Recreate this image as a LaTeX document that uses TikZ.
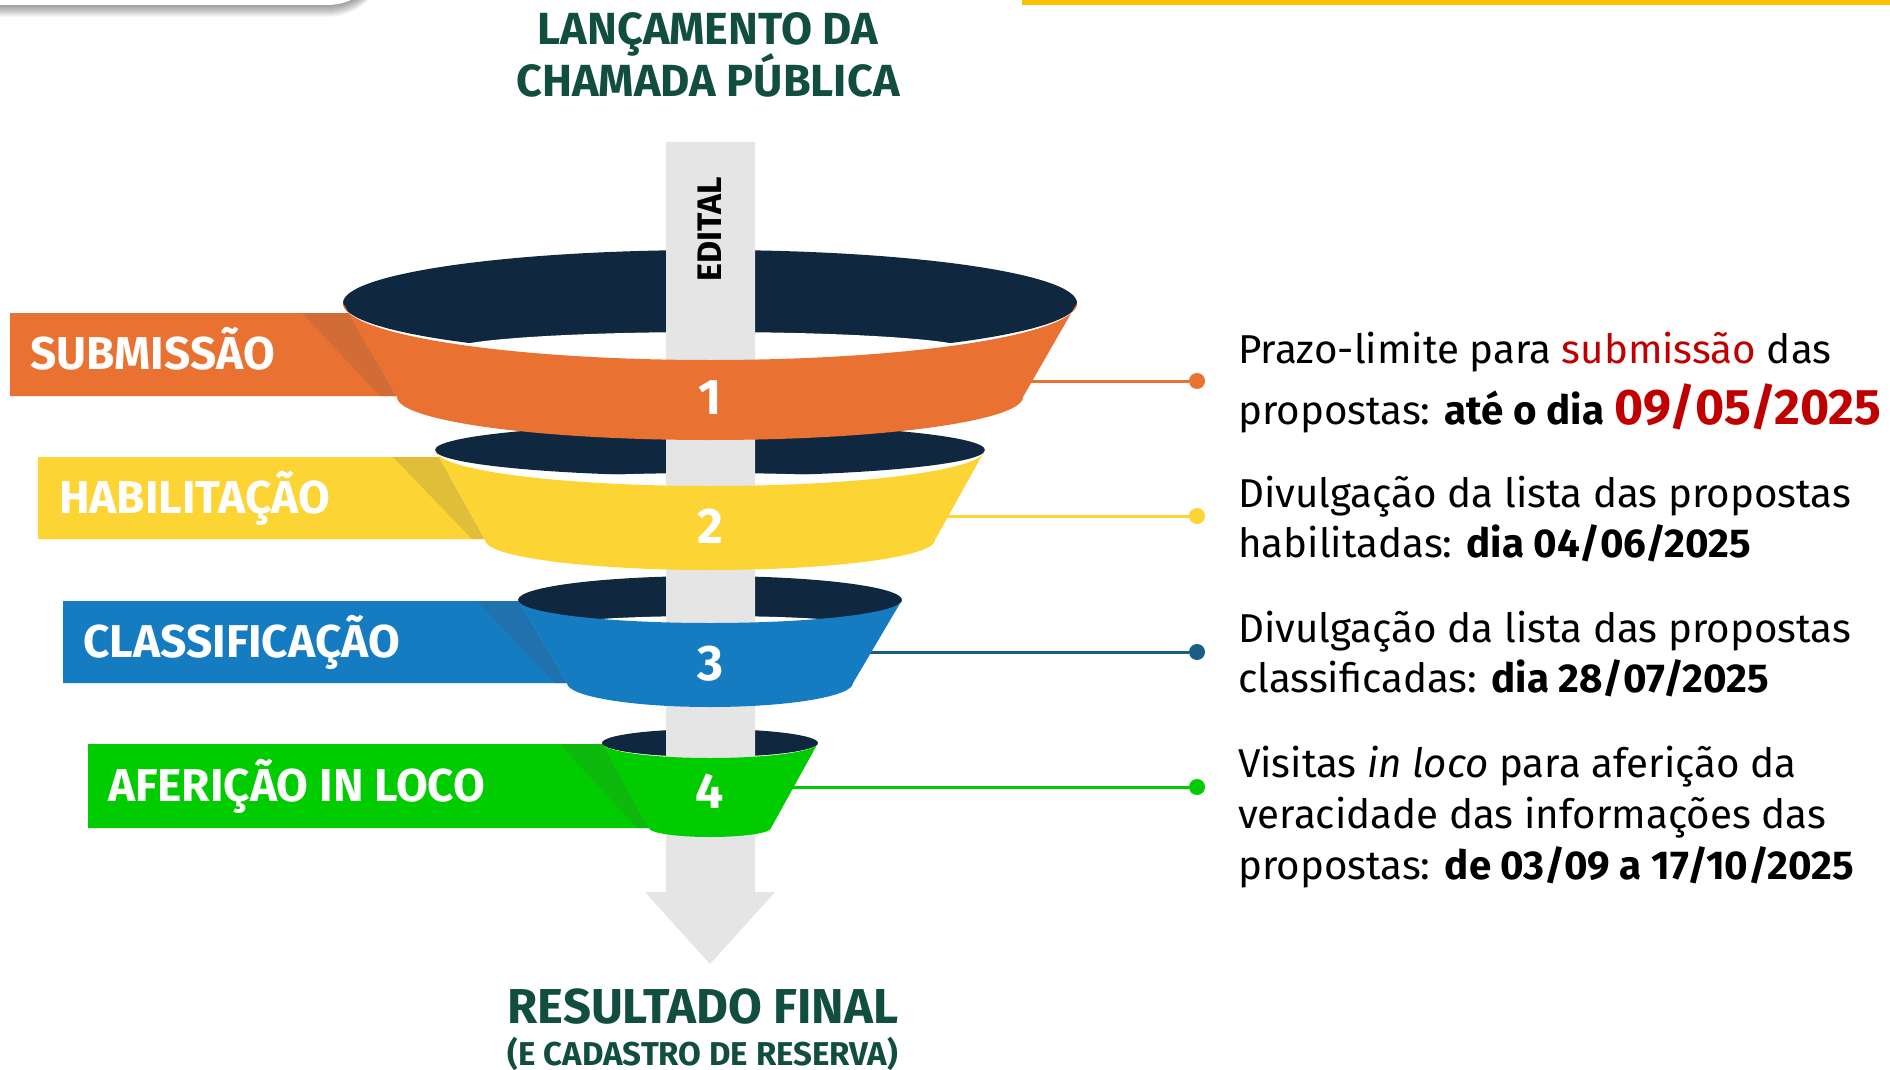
\documentclass[tikz,border=0pt]{standalone}
\usepackage{fontspec}
\setmainfont{Fira Sans}
\definecolor{navyC}{HTML}{10283F}
\definecolor{orangeC}{HTML}{E97132}
\definecolor{orangeS}{HTML}{D26C37}
\definecolor{yellowC}{HTML}{FCD434}
\definecolor{yellowS}{HTML}{E1BE3A}
\definecolor{blueC}{HTML}{167CC2}
\definecolor{blueS}{HTML}{2072AE}
\definecolor{greenC}{HTML}{00CC00}
\definecolor{greenS}{HTML}{0DB90D}
\definecolor{barC}{HTML}{E5E5E5}
\definecolor{titleC}{HTML}{124E3F}
\definecolor{redC}{HTML}{C00000}
\definecolor{tealC}{HTML}{1A5E86}
\definecolor{topY}{HTML}{FFC000}
\begin{document}
\begin{tikzpicture}[x=1pt,y=1pt,
  lbl/.style={anchor=base west, inner sep=0pt, text=white, font=\fontsize{46}{52}\selectfont\bfseries},
  num/.style={anchor=base, inner sep=0pt, text=white, font=\fontsize{50}{56}\selectfont\bfseries},
  info/.style={anchor=base west, inner sep=0pt, text=black, font=\fontsize{40.3}{48}\selectfont},
  ttl/.style={anchor=base, inner sep=0pt, text=titleC},
  dot/.style={circle, inner sep=0pt, minimum size=16pt},
  conn/.style={line width=3pt}]
\useasboundingbox (0,0) rectangle (1890,-1070);
\fill[white] (0,0) rectangle (1890,-1070);
% top-left tab with shadow
\foreach \i in {1,...,12}{
  \fill[black,opacity=0.035,rounded corners=60pt] (-100,100-\i) rectangle (387,-5-\i);
}
\fill[white,rounded corners=60pt] (-100,100) rectangle (387,-5);
% top-right yellow line
\fill[topY] (1022,0) rectangle (1890,-5);
% titles
\node[ttl, font=\fontsize{45}{50}\selectfont\bfseries] (t0a) at (708,-45) {LANÇAMENTO DA};
\node[ttl, font=\fontsize{45}{50}\selectfont\bfseries] (t0b) at (708,-97) {CHAMADA PÚBLICA};
\node[ttl, font=\fontsize{49}{54}\selectfont\bfseries] (r0a) at (703,-1023) {RESULTADO FINAL};
\node[ttl, font=\fontsize{33}{38}\selectfont\bfseries] (r0b) at (703,-1065) {(E CADASTRO DE RESERVA)};
% connectors
\coordinate (s1) at (710,-381);
\coordinate (s2) at (710,-516);
\coordinate (s3) at (710,-652);
\coordinate (s4) at (710,-787);
\node[dot, fill=orangeC] (d1) at (1197,-381) {};
\node[dot, fill=yellowC] (d2) at (1197,-516) {};
\node[dot, fill=tealC] (d3) at (1197,-652) {};
\node[dot, fill=greenC] (d4) at (1197,-787) {};
\draw[conn, orangeC] (s1) -- (d1);
\draw[conn, yellowC] (s2) -- (d2);
\draw[conn, tealC] (s3) -- (d3);
\draw[conn, greenC] (s4) -- (d4);
% label ribbons
\fill[orangeC] (10,-313) -- (348.7,-313) -- (396.4,-396) -- (10,-396) -- cycle;
\fill[orangeS] (302,-313) -- (348.7,-313) -- (396.4,-396) -- (380,-396) -- cycle;
\fill[yellowC] (38,-457) -- (438.9,-457) -- (484.4,-539) -- (38,-539) -- cycle;
\fill[yellowS] (393,-457) -- (438.9,-457) -- (484.4,-539) -- (472,-539) -- cycle;
\fill[blueC] (63,-601) -- (518.6,-601) -- (567,-683) -- (63,-683) -- cycle;
\fill[blueS] (477,-601) -- (518.6,-601) -- (567,-683) -- (555,-683) -- cycle;
\fill[greenC] (88,-744) -- (602.6,-744) -- (649,-828) -- (88,-828) -- cycle;
\fill[greenS] (560,-744) -- (602.6,-744) -- (649,-828) -- (637,-828) -- cycle;
% funnel backs
\fill[navyC] (710,-303) ellipse[x radius=367, y radius=53];
\fill[white] (710,-350) ellipse[x radius=260, y radius=18];
\fill[navyC] (710,-450) ellipse[x radius=275, y radius=26];
\fill[white] (710,-485) ellipse[x radius=190, y radius=12];
\fill[navyC] (710,-600) ellipse[x radius=192, y radius=24];
\fill[white] (710,-624) ellipse[x radius=140, y radius=8];
\fill[navyC] (710,-743) ellipse[x radius=108, y radius=14];
% central bar arrow
\fill[barC] (666,-142) -- (755,-142) -- (755,-892) -- (775,-892) -- (710,-964) -- (645,-892) -- (666,-892) -- cycle;
% funnel fronts
\fill[greenC] (602,-743) arc[start angle=180,end angle=360,x radius=108,y radius=15] -- (771,-828) arc[start angle=0,end angle=-180,x radius=61,y radius=9] -- cycle;
\fill[blueC] (518,-600) arc[start angle=180,end angle=360,x radius=192,y radius=23] -- (853,-683) arc[start angle=0,end angle=-180,x radius=143,y radius=24] -- cycle;
\fill[yellowC] (435,-450) arc[start angle=180,end angle=360,x radius=275,y radius=36] -- (935,-540) arc[start angle=0,end angle=-180,x radius=225,y radius=30] -- cycle;
\fill[orangeC] (343,-303) arc[start angle=180,end angle=360,x radius=367,y radius=57] -- (1023,-397) arc[start angle=0,end angle=-180,x radius=313,y radius=43] -- cycle;
% texts on funnel
\node[num] (n1) at (710,-414) {1};
\node[num] (n2) at (710,-543) {2};
\node[num] (n3) at (710,-680) {3};
\node[num] (n4) at (710,-808) {4};
\node[rotate=90, inner sep=0pt, font=\fontsize{34}{38}\selectfont\bfseries] (ed) at (710,-229) {EDITAL};
\node[lbl] (l1) at (30,-369) {SUBMISSÃO};
\node[lbl] (l2) at (59,-513) {HABILITAÇÃO};
\node[lbl] (l3) at (83,-657) {CLASSIFICAÇÃO};
\node[lbl] (l4) at (108,-801) {AFERIÇÃO IN LOCO};
% right texts
\node[info] (t1a) at (1238,-363) {Prazo-limite para \textcolor{redC}{submissão} das};
\node[info] (t1b) at (1238,-424) {propostas: \textbf{até o dia} {\fontsize{50}{56}\selectfont\bfseries\textcolor{redC}{09/05/2025}}};
\node[info] (t2a) at (1238,-507) {Divulgação da lista das propostas};
\node[info] (t2b) at (1238,-557) {habilitadas: \textbf{dia 04/06/2025}};
\node[info] (t3a) at (1238,-642) {Divulgação da lista das propostas};
\node[info] (t3b) at (1238,-692) {classificadas: \textbf{dia 28/07/2025}};
\node[info] (t4a) at (1238,-777) {Visitas \textit{in loco} para aferição da};
\node[info] (t4b) at (1238,-828) {veracidade das informações das};
\node[info] (t4c) at (1238,-879) {propostas: \textbf{de 03/09 a 17/10/2025}};
\end{tikzpicture}
\end{document}
